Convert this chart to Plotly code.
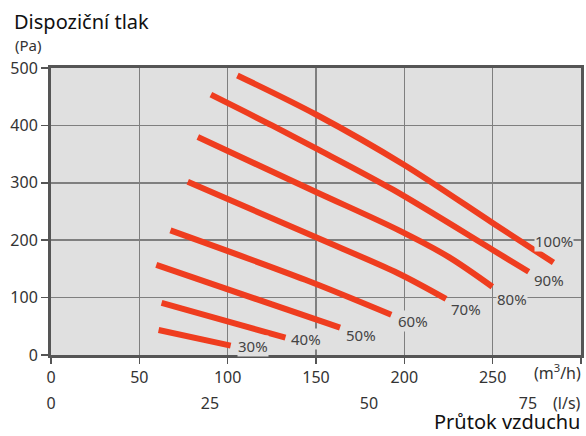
import plotly.graph_objects as go

# ---- data (flow in m3/h, pressure in Pa) ----
series_names = ["30%", "40%", "50%", "60%", "70%", "80%", "90%", "100%"]
flow_30 = [60.9, 101.7]
pa_30 = [43.6, 16.3]
flow_40 = [62.6, 132.7]
pa_40 = [91, 30.3]
flow_50 = [59.6, 163.6]
pa_50 = [157, 47.6]
flow_60 = [67.6, 143.9, 192.6]
pa_60 = [217, 131, 70]
flow_70 = [77.4, 150, 196.4, 223.6]
pa_70 = [302, 205, 142.5, 97.7]
flow_80 = [83.1, 150, 196.4, 225, 249.8]
pa_80 = [379.7, 284, 218, 171, 119]
flow_90 = [90.5, 125.1, 150, 193.6, 250.1, 270.4]
pa_90 = [453.5, 400, 360, 288, 183, 145]
flow_100 = [105.5, 150, 200, 250, 284.4]
pa_100 = [487, 419, 331, 230, 161]

x_ticks_m3h = [0, 50, 100, 150, 200, 250, 300]
x_ticktext_m3h = ["0", "50", "100", "150", "200", "250", ""]
x_ticks_ls = [0, 25, 50, 75]
y_ticks = [0, 100, 200, 300, 400, 500]

flows = [flow_30, flow_40, flow_50, flow_60, flow_70, flow_80, flow_90, flow_100]
pas = [pa_30, pa_40, pa_50, pa_60, pa_70, pa_80, pa_90, pa_100]
# label offsets in pixels (xshift, yshift)
label_offsets = [(6, 0), (5, -1), (5, -7), (6, -6), (4, -10), (4, -12), (4, -8), (-19, 22)]

LINE_COLOR = "#ef3d1f"
BG = "#e0e0e0"
FONT = "Noto Sans"

fig = go.Figure()
for name, fx, py in zip(series_names, flows, pas):
    fig.add_trace(go.Scatter(
        x=fx, y=py, mode="lines", name=name,
        line=dict(color=LINE_COLOR, width=6, shape="spline", smoothing=0.9),
        hoverinfo="skip", showlegend=False,
    ))

# invisible trace to activate second (l/s) axis
fig.add_trace(go.Scatter(x=[0], y=[0], xaxis="x2", mode="markers",
                         marker=dict(opacity=0), hoverinfo="skip", showlegend=False))

for name, fx, py, (dx, dy) in zip(series_names, flows, pas, label_offsets):
    fig.add_annotation(
        x=fx[-1], y=py[-1], xref="x", yref="y", text=name, showarrow=False,
        xanchor="left", yanchor="middle", xshift=dx, yshift=dy,
        font=dict(family=FONT, size=15, color="#444444"),
        bgcolor=BG, borderpad=0,
    )

PB = 392.0  # paper bottom pixel
PH = 324.0  # paper height in px


def py_(p):
    return (PB - p) / PH


def px_(p):
    return (p - 51.0) / 533.0


fig.add_annotation(text="Dispoziční tlak", xref="paper", yref="paper",
                   x=px_(12), y=py_(21), xanchor="left", yanchor="middle",
                   showarrow=False, font=dict(family=FONT, size=20, color="#111111"))
fig.add_annotation(text="(Pa)", xref="paper", yref="paper",
                   x=px_(13), y=py_(45), xanchor="left", yanchor="middle",
                   showarrow=False, font=dict(family=FONT, size=15, color="#333333"))
fig.add_annotation(text="(m<sup>3</sup>/h)", xref="paper", yref="paper",
                   x=1.0, y=py_(372), xanchor="right", yanchor="middle", xshift=2,
                   showarrow=False, font=dict(family=FONT, size=16, color="#333333"))
fig.add_annotation(text="(l/s)", xref="paper", yref="paper",
                   x=1.0, y=py_(403), xanchor="right", yanchor="middle", xshift=2,
                   showarrow=False, font=dict(family=FONT, size=16, color="#333333"))
fig.add_annotation(text="Průtok vzduchu", xref="paper", yref="paper",
                   x=1.0, y=py_(421), xanchor="right", yanchor="middle", xshift=1,
                   showarrow=False, font=dict(family=FONT, size=20, color="#111111"))

fig.update_layout(
    width=586, height=436,
    margin=dict(l=51, r=2, t=68, b=436 - int(PB)),
    paper_bgcolor="white", plot_bgcolor=BG,
    font=dict(family=FONT, size=16, color="#333333"),
    xaxis=dict(range=[0, 300], tickvals=x_ticks_m3h, ticktext=x_ticktext_m3h,
               showgrid=True, gridcolor="#7f7f7f", gridwidth=1.5,
               showline=True, linecolor="#555555", linewidth=3, mirror=True,
               ticks="outside", ticklen=6, tickwidth=1.5, tickcolor="#555555",
               zeroline=False, anchor="y", fixedrange=True),
    xaxis2=dict(range=[0, 300 / 3.6], tickvals=x_ticks_ls, overlaying="x",
                anchor="free", position=0, side="bottom", showgrid=False,
                showline=False, ticks="", zeroline=False, fixedrange=True),
    yaxis=dict(range=[0, 500], tickvals=y_ticks, domain=[(PB - 355) / PH, 1],
               showgrid=True, gridcolor="#7f7f7f", gridwidth=1.5,
               showline=True, linecolor="#555555", linewidth=3, mirror=True,
               ticks="outside", ticklen=7, tickwidth=1.5, tickcolor="#555555",
               zeroline=False, fixedrange=True),
)

fig.write_html(
    "out.html",
    config={"displayModeBar": False, "staticPlot": True},
    post_script="document.body.style.margin='0';document.body.style.overflow='hidden';",
)
